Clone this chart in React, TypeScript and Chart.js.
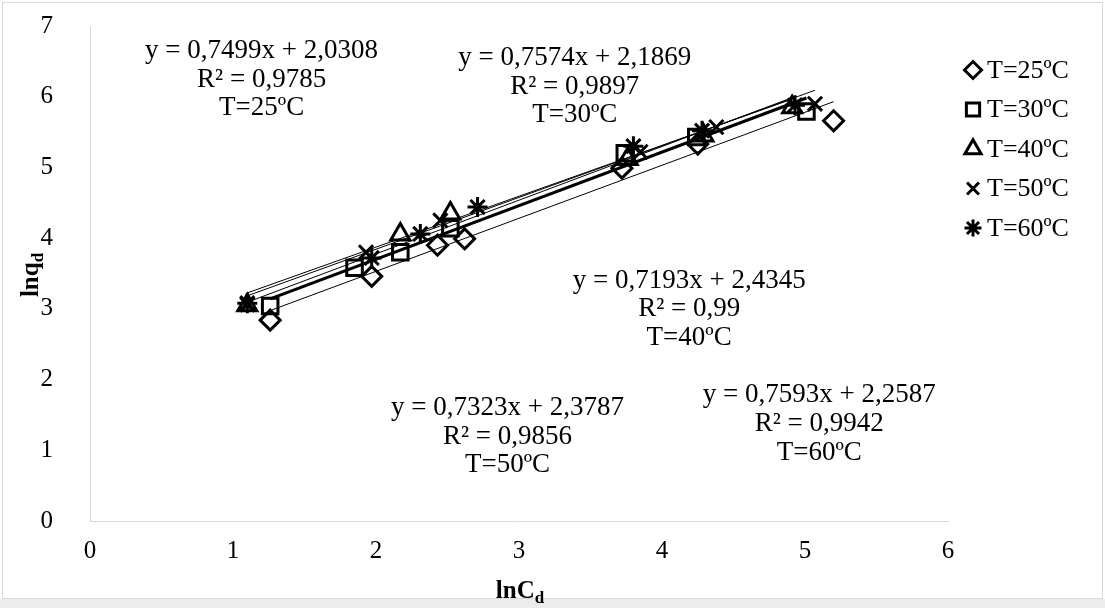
import React, { useEffect, useRef } from 'react';
import { Chart, registerables } from 'chart.js';
import { drawPoint } from 'chart.js/helpers';

Chart.register(...registerables);

// ---- data ----
const seriesNames = ['T=25ºC', 'T=30ºC', 'T=40ºC', 'T=50ºC', 'T=60ºC'];
const t25x = [1.26, 1.97, 2.43, 2.62, 3.72, 4.25, 5.2];
const t25y = [2.84, 3.46, 3.9, 3.99, 4.99, 5.33, 5.66];
const t30x = [1.26, 1.85, 2.17, 2.52, 3.74, 4.24, 5.01];
const t30y = [3.04, 3.58, 3.8, 4.14, 5.2, 5.43, 5.79];
const t40x = [1.1, 2.17, 2.52, 3.76, 4.29, 4.91];
const t40y = [3.05, 4.05, 4.35, 5.12, 5.45, 5.85];
const t50x = [1.1, 1.93, 2.45, 3.85, 4.38, 5.07];
const t50y = [3.06, 3.8, 4.25, 5.22, 5.57, 5.9];
const t60x = [1.1, 1.97, 2.31, 2.71, 3.8, 4.28, 4.93];
const t60y = [3.08, 3.72, 4.06, 4.44, 5.3, 5.52, 5.88];
const slopes = [0.7499, 0.7574, 0.7193, 0.7323, 0.7593];
const intercepts = [2.0308, 2.1869, 2.4345, 2.3787, 2.2587];
const r2Labels = ['0,9785', '0,9897', '0,99', '0,9856', '0,9942'];
const slopeLabels = ['0,7499', '0,7574', '0,7193', '0,7323', '0,7593'];
const interceptLabels = ['2,0308', '2,1869', '2,4345', '2,3787', '2,2587'];
const xTicks = [0, 1, 2, 3, 4, 5, 6];
const yTicks = [0, 1, 2, 3, 4, 5, 6, 7];

// ---- styles / layout ----
const xs = [t25x, t30x, t40x, t50x, t60x];
const ys = [t25y, t30y, t40y, t50y, t60y];
const pointStyles = ['rectRot', 'rect', 'triangle', 'crossRot', 'star'];
const pointRadii = [10, 11, 11, 10, 10];
const trendWidths = [1, 3, 1, 1, 1];
// annotation anchor (data coords of the first line's centre)
const annotX = [1.2, 3.39, 4.19, 2.92, 5.1];
const annotY = [6.65, 6.55, 3.4, 1.6, 1.78];

const FONT = '"Liberation Serif", "Times New Roman", serif';

const bgPlugin = {
  id: 'bg',
  beforeDraw(chart: any) {
    const ctx = chart.ctx;
    ctx.save();
    ctx.fillStyle = '#ffffff';
    ctx.fillRect(0, 0, chart.width, chart.height);
    ctx.fillStyle = '#ececec';
    ctx.fillRect(0, 599, chart.width, chart.height - 599);
    ctx.strokeStyle = '#d9d9d9';
    ctx.lineWidth = 1;
    ctx.strokeRect(2.5, 2.5, chart.width - 5, 596);
    ctx.restore();
  },
};

const overlayPlugin = {
  id: 'overlay',
  afterDraw(chart: any) {
    const ctx = chart.ctx;
    const xS = chart.scales.x;
    const yS = chart.scales.y;
    ctx.save();
    // annotations
    ctx.fillStyle = '#000';
    ctx.textAlign = 'center';
    ctx.textBaseline = 'middle';
    ctx.font = `27px ${FONT}`;
    for (let i = 0; i < 5; i++) {
      const cx = xS.getPixelForValue(annotX[i]);
      const cy = yS.getPixelForValue(annotY[i]);
      const lines = [
        `y = ${slopeLabels[i]}x + ${interceptLabels[i]}`,
        `R² = ${r2Labels[i]}`,
        seriesNames[i],
      ];
      lines.forEach((l, k) => ctx.fillText(l, cx, cy + k * 28.7));
    }
    // legend
    ctx.textAlign = 'left';
    ctx.font = `26px ${FONT}`;
    for (let i = 0; i < 5; i++) {
      const y = 70 + i * 39.5;
      ctx.strokeStyle = '#000';
      ctx.fillStyle = 'rgba(0,0,0,0)';
      ctx.lineWidth = 3;
      drawPoint(ctx, { pointStyle: pointStyles[i], radius: pointRadii[i] * 0.85, borderWidth: 3, rotation: 0 } as any, 973, y);
      ctx.fillStyle = '#000';
      ctx.fillText(seriesNames[i], 987, y + 1);
    }
    // axis titles
    const drawTitle = (main: string, sub: string, x: number, y: number, rot: number) => {
      ctx.save();
      ctx.translate(x, y);
      ctx.rotate(rot);
      ctx.textBaseline = 'alphabetic';
      ctx.textAlign = 'left';
      ctx.font = `bold 25px ${FONT}`;
      const w1 = ctx.measureText(main).width;
      ctx.font = `bold 17px ${FONT}`;
      const w2 = ctx.measureText(sub).width;
      const start = -(w1 + w2) / 2;
      ctx.font = `bold 25px ${FONT}`;
      ctx.fillText(main, start, 8);
      ctx.font = `bold 17px ${FONT}`;
      ctx.fillText(sub, start + w1, 13);
      ctx.restore();
    };
    drawTitle('lnC', 'd', 520, 590, 0);
    drawTitle('lnq', 'd', 30, 275, -Math.PI / 2);
    ctx.restore();
  },
};

export default function App() {
  const ref = useRef<HTMLCanvasElement>(null);
  useEffect(() => {
    if (!ref.current) return;
    const datasets: any[] = [];
    for (let i = 0; i < 5; i++) {
      datasets.push({
        type: 'scatter',
        label: seriesNames[i],
        data: xs[i].map((x, k) => ({ x, y: ys[i][k] })),
        pointStyle: pointStyles[i],
        pointRadius: pointRadii[i],
        pointBorderWidth: 3,
        pointBorderColor: '#000',
        pointBackgroundColor: 'rgba(0,0,0,0)',
        showLine: false,
        order: 1,
      });
    }
    for (let i = 0; i < 5; i++) {
      const x0 = Math.min(...xs[i]);
      const x1 = Math.max(...xs[i]);
      datasets.push({
        type: 'line',
        label: 'trend ' + seriesNames[i],
        data: [
          { x: x0, y: slopes[i] * x0 + intercepts[i] },
          { x: x1, y: slopes[i] * x1 + intercepts[i] },
        ],
        borderColor: '#000',
        borderWidth: trendWidths[i],
        pointRadius: 0,
        fill: false,
        order: 2,
      });
    }
    const chart = new Chart(ref.current, {
      type: 'scatter',
      data: { datasets },
      options: {
        responsive: false,
        animation: false,
        devicePixelRatio: 1,
        layout: { padding: { left: 0, top: 26, right: 157, bottom: 0 } },
        plugins: { legend: { display: false }, tooltip: { enabled: false } },
        scales: {
          x: {
            type: 'linear',
            min: 0,
            max: 6,
            afterBuildTicks: (s: any) => { s.ticks = xTicks.map((v) => ({ value: v })); },
            afterFit: (s: any) => { s.height = 87; s.paddingLeft = 0; s.paddingRight = 0; },
            grid: { display: false, drawOnChartArea: false, drawTicks: true, tickLength: 8, color: '#d9d9d9' },
            border: { display: true, color: '#d9d9d9', width: 1 },
            ticks: { color: '#000', font: { family: FONT, size: 25 }, padding: 7, maxRotation: 0 },
          },
          y: {
            type: 'linear',
            min: 0,
            max: 7,
            afterBuildTicks: (s: any) => { s.ticks = yTicks.map((v) => ({ value: v })); },
            afterFit: (s: any) => { s.width = 90; s.paddingTop = 0; s.paddingBottom = 0; },
            grid: { display: false, drawOnChartArea: false, drawTicks: true, tickLength: 8, color: '#d9d9d9' },
            border: { display: true, color: '#d9d9d9', width: 1 },
            ticks: { color: '#000', font: { family: FONT, size: 25 }, padding: 29 },
          },
        },
      } as any,
      plugins: [bgPlugin, overlayPlugin],
    });
    return () => chart.destroy();
  }, []);
  return (
    <div style={{ position: 'fixed', left: 0, top: 0, width: 1105, height: 608, background: '#fff' }}>
      <canvas ref={ref} width={1105} height={608} style={{ display: 'block' }} />
    </div>
  );
}
